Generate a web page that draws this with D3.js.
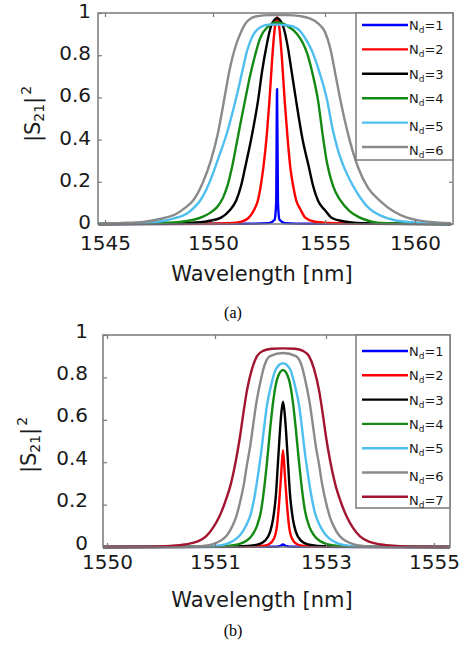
<!DOCTYPE html>
<html>
<head>
<meta charset="utf-8">
<script src="https://cdn.jsdelivr.net/npm/d3@7"></script>
<style>
  body { margin: 0; background: #fff; }
  svg { display: block; }
</style>
</head>
<body>
<svg id="chart"></svg>
<script>
const width = 467;
const height = 648;

// tick labels
const yTicks = [0, 0.2, 0.4, 0.6, 0.8, 1];
const xTicksA = [1545, 1550, 1555, 1560];
const xTicksB = [1550, 1551, 1553, 1555];

// number of dielectric layers, one per curve
const ndA = [1, 2, 3, 4, 5, 6];
const ndB = [1, 2, 3, 4, 5, 6, 7];

// (a) curves, [wavelength nm, |S21|^2]
const a1 = [[1544.7,0],[1551.5,0.001],[1552.5,0.004],[1552.75,0.02],[1552.82,0.1],[1552.86,0.64],
  [1552.9,0.1],[1552.97,0.02],[1553.22,0.004],[1554.2,0.001],[1562,0]];
const a2 = [[1544.7,0],[1549.5,0.001],[1550.9,0.005],[1551.3,0.012],[1551.6,0.03],[1551.85,0.07],
  [1552.0,0.11],[1552.13,0.18],[1552.25,0.27],[1552.4,0.42],[1552.52,0.585],[1552.64,0.78],
  [1552.76,0.93],[1552.86,0.98],[1552.96,0.93],[1553.08,0.78],[1553.2,0.585],[1553.32,0.42],
  [1553.45,0.27],[1553.58,0.18],[1553.72,0.11],[1553.9,0.07],[1554.12,0.03],[1554.5,0.012],
  [1555.2,0.005],[1557,0.001],[1562,0]];
const a3 = [[1544.7,0],[1547,0.001],[1548.96,0.005],[1549.8,0.014],[1550.36,0.03],[1550.75,0.065],
  [1551.03,0.11],[1551.25,0.18],[1551.44,0.27],[1551.7,0.4],[1552.01,0.585],[1552.2,0.73],
  [1552.4,0.85],[1552.6,0.94],[1552.86,0.975],[1553.12,0.94],[1553.32,0.85],[1553.5,0.73],
  [1553.71,0.585],[1554.0,0.4],[1554.28,0.27],[1554.47,0.18],[1554.69,0.11],[1555.0,0.065],
  [1555.36,0.03],[1556.0,0.013],[1556.76,0.005],[1559,0.001],[1562,0]];
const a4 = [[1544.7,0],[1546.5,0.002],[1547.6,0.005],[1548.47,0.01],[1549.1,0.02],[1549.54,0.035],
  [1549.9,0.055],[1550.18,0.08],[1550.45,0.125],[1550.67,0.19],[1550.85,0.27],[1551.07,0.39],
  [1551.25,0.49],[1551.43,0.585],[1551.65,0.7],[1551.88,0.8],[1552.1,0.88],[1552.4,0.93],
  [1552.86,0.955],[1553.3,0.94],[1553.75,0.9],[1554.0,0.86],[1554.2,0.81],[1554.45,0.71],
  [1554.69,0.585],[1554.9,0.42],[1555.11,0.29],[1555.45,0.18],[1555.83,0.115],[1556.35,0.062],
  [1556.94,0.03],[1557.5,0.013],[1558.06,0.005],[1560,0.001],[1562,0]];
const a5 = [[1544.7,0.001],[1546.3,0.004],[1547.41,0.01],[1548.2,0.027],[1548.8,0.05],[1549.1,0.075],
  [1549.4,0.11],[1549.7,0.165],[1550.0,0.24],[1550.3,0.33],[1550.62,0.43],[1550.9,0.54],
  [1551.12,0.635],[1551.32,0.73],[1551.52,0.82],[1551.7,0.875],[1551.88,0.91],[1552.15,0.935],
  [1552.5,0.945],[1552.9,0.945],[1553.3,0.942],[1553.6,0.935],[1553.88,0.915],[1554.15,0.875],
  [1554.42,0.82],[1554.75,0.72],[1555.11,0.59],[1555.4,0.46],[1555.72,0.35],[1556.1,0.26],
  [1556.56,0.18],[1557.0,0.12],[1557.5,0.07],[1558.1,0.04],[1558.78,0.02],[1559.8,0.008],
  [1561,0.003],[1562,0.001]];
const a6 = [[1544.7,0.002],[1545.8,0.005],[1546.76,0.01],[1547.6,0.025],[1548.33,0.05],[1548.75,0.08],
  [1549.07,0.11],[1549.5,0.19],[1549.9,0.3],[1550.22,0.43],[1550.5,0.59],[1550.76,0.74],
  [1551.0,0.84],[1551.21,0.9],[1551.45,0.95],[1551.7,0.975],[1552.0,0.985],[1552.5,0.99],
  [1553.3,0.99],[1553.9,0.985],[1554.3,0.975],[1554.7,0.95],[1555.0,0.91],[1555.3,0.83],
  [1555.6,0.7],[1555.85,0.59],[1556.3,0.42],[1556.83,0.27],[1557.4,0.17],[1558.06,0.11],
  [1558.8,0.06],[1559.56,0.03],[1560.2,0.017],[1560.83,0.01],[1562,0.004]];

// (b) curves
const b1 = [[1549.96,0],[1552.1,0.001],[1552.18,0.005],[1552.225,0.012],[1552.27,0.005],[1552.36,0.001],[1555.3,0]];
const b2 = [[1549.96,0],[1551.541,0.001],[1551.847,0.005],[1551.973,0.013],[1552.063,0.04],
  [1552.117,0.1],[1552.153,0.2],[1552.189,0.33],[1552.225,0.457],[1552.261,0.33],[1552.297,0.2],
  [1552.333,0.1],[1552.387,0.04],[1552.477,0.013],[1552.604,0.005],[1552.892,0.001],[1555.3,0]];
const b3 = [[1549.96,0],[1551.18,0.001],[1551.595,0.005],[1551.775,0.012],[1551.901,0.03],
  [1551.991,0.07],[1552.045,0.13],[1552.099,0.25],[1552.135,0.4],[1552.171,0.55],[1552.198,0.64],
  [1552.225,0.685],[1552.252,0.64],[1552.279,0.55],[1552.315,0.4],[1552.351,0.25],[1552.405,0.13],
  [1552.459,0.07],[1552.55,0.03],[1552.676,0.012],[1552.856,0.005],[1553.259,0.001],[1555.3,0]];
const b4 = [[1549.96,0],[1550.907,0.001],[1551.234,0.005],[1551.414,0.012],[1551.559,0.028],
  [1551.667,0.055],[1551.757,0.1],[1551.829,0.17],[1551.883,0.27],[1551.937,0.4],[1551.991,0.55],
  [1552.045,0.68],[1552.117,0.79],[1552.225,0.835],[1552.333,0.79],[1552.405,0.68],[1552.459,0.55],
  [1552.514,0.4],[1552.568,0.27],[1552.622,0.17],[1552.694,0.1],[1552.784,0.055],[1552.892,0.028],
  [1553.037,0.012],[1553.222,0.005],[1553.63,0.001],[1555.3,0]];
const b5 = [[1549.96,0],[1550.815,0.001],[1551.0,0.005],[1551.18,0.012],[1551.324,0.028],
  [1551.45,0.055],[1551.559,0.1],[1551.649,0.16],[1551.721,0.25],[1551.775,0.34],[1551.829,0.44],
  [1551.883,0.56],[1551.937,0.67],[1552.009,0.76],[1552.099,0.84],[1552.225,0.867],[1552.351,0.84],
  [1552.441,0.76],[1552.514,0.67],[1552.568,0.56],[1552.622,0.44],[1552.676,0.34],[1552.73,0.25],
  [1552.802,0.16],[1552.892,0.1],[1553.0,0.055],[1553.13,0.028],[1553.278,0.012],[1553.463,0.005],
  [1553.833,0.001],[1555.3,0]];
const b6 = [[1549.96,0],[1550.769,0.001],[1550.889,0.005],[1550.972,0.012],[1551.09,0.028],
  [1551.216,0.055],[1551.306,0.095],[1551.378,0.14],[1551.45,0.21],[1551.523,0.3],[1551.577,0.39],
  [1551.631,0.47],[1551.685,0.57],[1551.739,0.67],[1551.811,0.77],[1551.883,0.85],[1551.991,0.9],
  [1552.225,0.915],[1552.459,0.9],[1552.568,0.85],[1552.64,0.77],[1552.712,0.67],[1552.766,0.57],
  [1552.82,0.47],[1552.874,0.39],[1552.928,0.3],[1553.0,0.21],[1553.074,0.14],[1553.148,0.095],
  [1553.241,0.055],[1553.37,0.028],[1553.519,0.012],[1553.685,0.005],[1553.926,0.001],[1555.3,0]];
const b7 = [[1549.96,0],[1550.398,0.001],[1550.583,0.005],[1550.722,0.012],[1550.833,0.025],
  [1550.917,0.05],[1550.981,0.09],[1551.072,0.14],[1551.18,0.21],[1551.288,0.3],[1551.378,0.41],
  [1551.45,0.52],[1551.505,0.62],[1551.577,0.74],[1551.667,0.84],[1551.757,0.9],[1551.865,0.925],
  [1552.027,0.935],[1552.225,0.937],[1552.441,0.935],[1552.586,0.925],[1552.694,0.9],[1552.784,0.84],
  [1552.874,0.74],[1552.946,0.62],[1553.0,0.52],[1553.074,0.41],[1553.167,0.3],[1553.278,0.21],
  [1553.389,0.14],[1553.5,0.09],[1553.63,0.05],[1553.796,0.025],[1554.019,0.012],[1554.296,0.005],
  [1554.667,0.001],[1555.3,0]];

// colours
const colors = ['#0000ff', '#ff0000', '#000000', '#138a13', '#4dbeee', '#8a8a8a', '#a2142f'];
const axisColor = '#7a7a7a';
const font = 'DejaVu Sans, sans-serif';

const svg = d3.select('#chart').attr('width', width).attr('height', height);

const drawPanel = ({ id, series, nds, xTicks, xRange, box, tickPad, yPad, yDy,
                     yLabelPos, xLabelY, caption, legend }) => {
  const x = d3.scaleLinear().domain(xTicks).range(xRange);
  const y = d3.scaleLinear().domain([0, 1]).range([box.bottom, box.top]);
  const g = svg.append('g');

  g.append('clipPath').attr('id', 'clip-' + id)
    .append('rect')
      .attr('x', box.left).attr('y', box.top - 2)
      .attr('width', box.right - box.left).attr('height', box.bottom - box.top + 4);

  // curves, later ones on top
  const line = d3.line()
    .x(d => x(d[0]))
    .y(d => y(d[1]))
    .curve(d3.curveMonotoneX);

  g.append('g').attr('clip-path', `url(#clip-${id})`)
    .selectAll('path')
    .data(series)
    .enter()
    .append('path')
      .attr('fill', 'none')
      .attr('stroke', (d, i) => colors[i])
      .attr('stroke-width', 2.4)
      .attr('stroke-linejoin', 'round')
      .attr('d', line);

  // axes
  const styleAxis = sel => {
    sel.select('.domain').remove();
    sel.selectAll('line').attr('stroke', axisColor).attr('stroke-width', 1.2);
    sel.selectAll('text').attr('font-family', font).attr('font-size', 20).attr('fill', '#1a1a1a');
  };

  g.append('g')
    .attr('transform', `translate(0,${box.bottom})`)
    .call(d3.axisBottom(x).tickValues(xTicks).tickFormat(d3.format('d'))
      .tickSizeInner(-4).tickSizeOuter(0).tickPadding(tickPad))
    .call(styleAxis);
  g.append('g')
    .attr('transform', `translate(0,${box.top})`)
    .call(d3.axisTop(x).tickValues(xTicks).tickFormat('').tickSizeInner(-4).tickSizeOuter(0))
    .call(styleAxis);
  g.append('g')
    .attr('transform', `translate(${box.left},0)`)
    .call(d3.axisLeft(y).tickValues(yTicks).tickFormat(d3.format('~g'))
      .tickSizeInner(-4).tickSizeOuter(0).tickPadding(yPad))
    .call(styleAxis)
    .selectAll('text').attr('dy', yDy);
  g.append('g')
    .attr('transform', `translate(${box.right},0)`)
    .call(d3.axisRight(y).tickValues(yTicks).tickFormat('').tickSizeInner(-4).tickSizeOuter(0))
    .call(styleAxis);

  g.append('rect')
    .attr('x', box.left).attr('y', box.top)
    .attr('width', box.right - box.left).attr('height', box.bottom - box.top)
    .attr('fill', 'none')
    .attr('stroke', axisColor)
    .attr('stroke-width', 1.5);

  // axis titles
  g.append('text')
    .attr('x', 262).attr('y', xLabelY)
    .attr('text-anchor', 'middle')
    .attr('font-family', font).attr('font-size', 21).attr('fill', '#1a1a1a')
    .text('Wavelength [nm]');

  const yl = g.append('text')
    .attr('transform', `translate(${yLabelPos[0]},${yLabelPos[1]}) rotate(-90)`)
    .attr('text-anchor', 'middle')
    .attr('font-family', font).attr('font-size', 21).attr('fill', '#1a1a1a');
  yl.append('tspan').text('|S');
  yl.append('tspan').attr('font-size', 14).attr('dy', 4).text('21');
  yl.append('tspan').attr('dy', -4).text('|');
  yl.append('tspan').attr('font-size', 14).attr('dy', -9).attr('dx', 2).text('2');

  // legend
  const lg = g.append('g');
  lg.append('rect')
    .attr('x', legend.left).attr('y', box.top)
    .attr('width', box.right - legend.left).attr('height', legend.bottom - box.top)
    .attr('fill', '#fff')
    .attr('stroke', axisColor)
    .attr('stroke-width', 1.5);

  const items = lg.selectAll('.item')
    .data(nds)
    .enter()
    .append('g')
      .classed('item', true)
      .attr('transform', (d, i) => `translate(0,${legend.first + i * legend.step})`);
  items.append('line')
    .attr('x1', legend.left + 6).attr('x2', legend.left + 52)
    .attr('stroke', (d, i) => colors[i])
    .attr('stroke-width', 2.4);
  const lt = items.append('text')
    .attr('x', legend.left + 53)
    .attr('y', (d, i) => 5 + (i >= nds.length - 2 ? 3 : 0))
    .attr('font-family', font).attr('font-size', 13).attr('fill', '#1a1a1a');
  lt.append('tspan').text('N');
  lt.append('tspan').attr('font-size', 9).attr('dy', 3).text('d');
  lt.append('tspan').attr('dy', -3).text(d => '=' + d);

  // caption
  g.append('text')
    .attr('x', 233).attr('y', caption.y)
    .attr('text-anchor', 'middle')
    .attr('font-family', 'Liberation Serif, serif').attr('font-size', 16).attr('fill', '#000')
    .text(caption.text);
};

drawPanel({
  id: 'a',
  series: [a1, a2, a3, a4, a5, a6],
  nds: ndA,
  xTicks: xTicksA,
  xRange: [105, 213, 325, 415],
  box: { left: 98, right: 453, top: 13, bottom: 224 },
  tickPad: 12,
  yPad: 7,
  yDy: '0.22em',
  yLabelPos: [40, 114],
  xLabelY: 281,
  caption: { text: '(a)', y: 318 },
  legend: { left: 356, bottom: 160, first: 25, step: 24.4 }
});

drawPanel({
  id: 'b',
  series: [b1, b2, b3, b4, b5, b6, b7],
  nds: ndB,
  xTicks: xTicksB,
  xRange: [107, 215, 326, 434],
  box: { left: 103, right: 450, top: 335, bottom: 547 },
  tickPad: 8,
  yPad: 15,
  yDy: '0.1em',
  yLabelPos: [36, 445],
  xLabelY: 607,
  caption: { text: '(b)', y: 636 },
  legend: { left: 356, bottom: 508, first: 351, step: 24.3 }
});
</script>
</body>
</html>
